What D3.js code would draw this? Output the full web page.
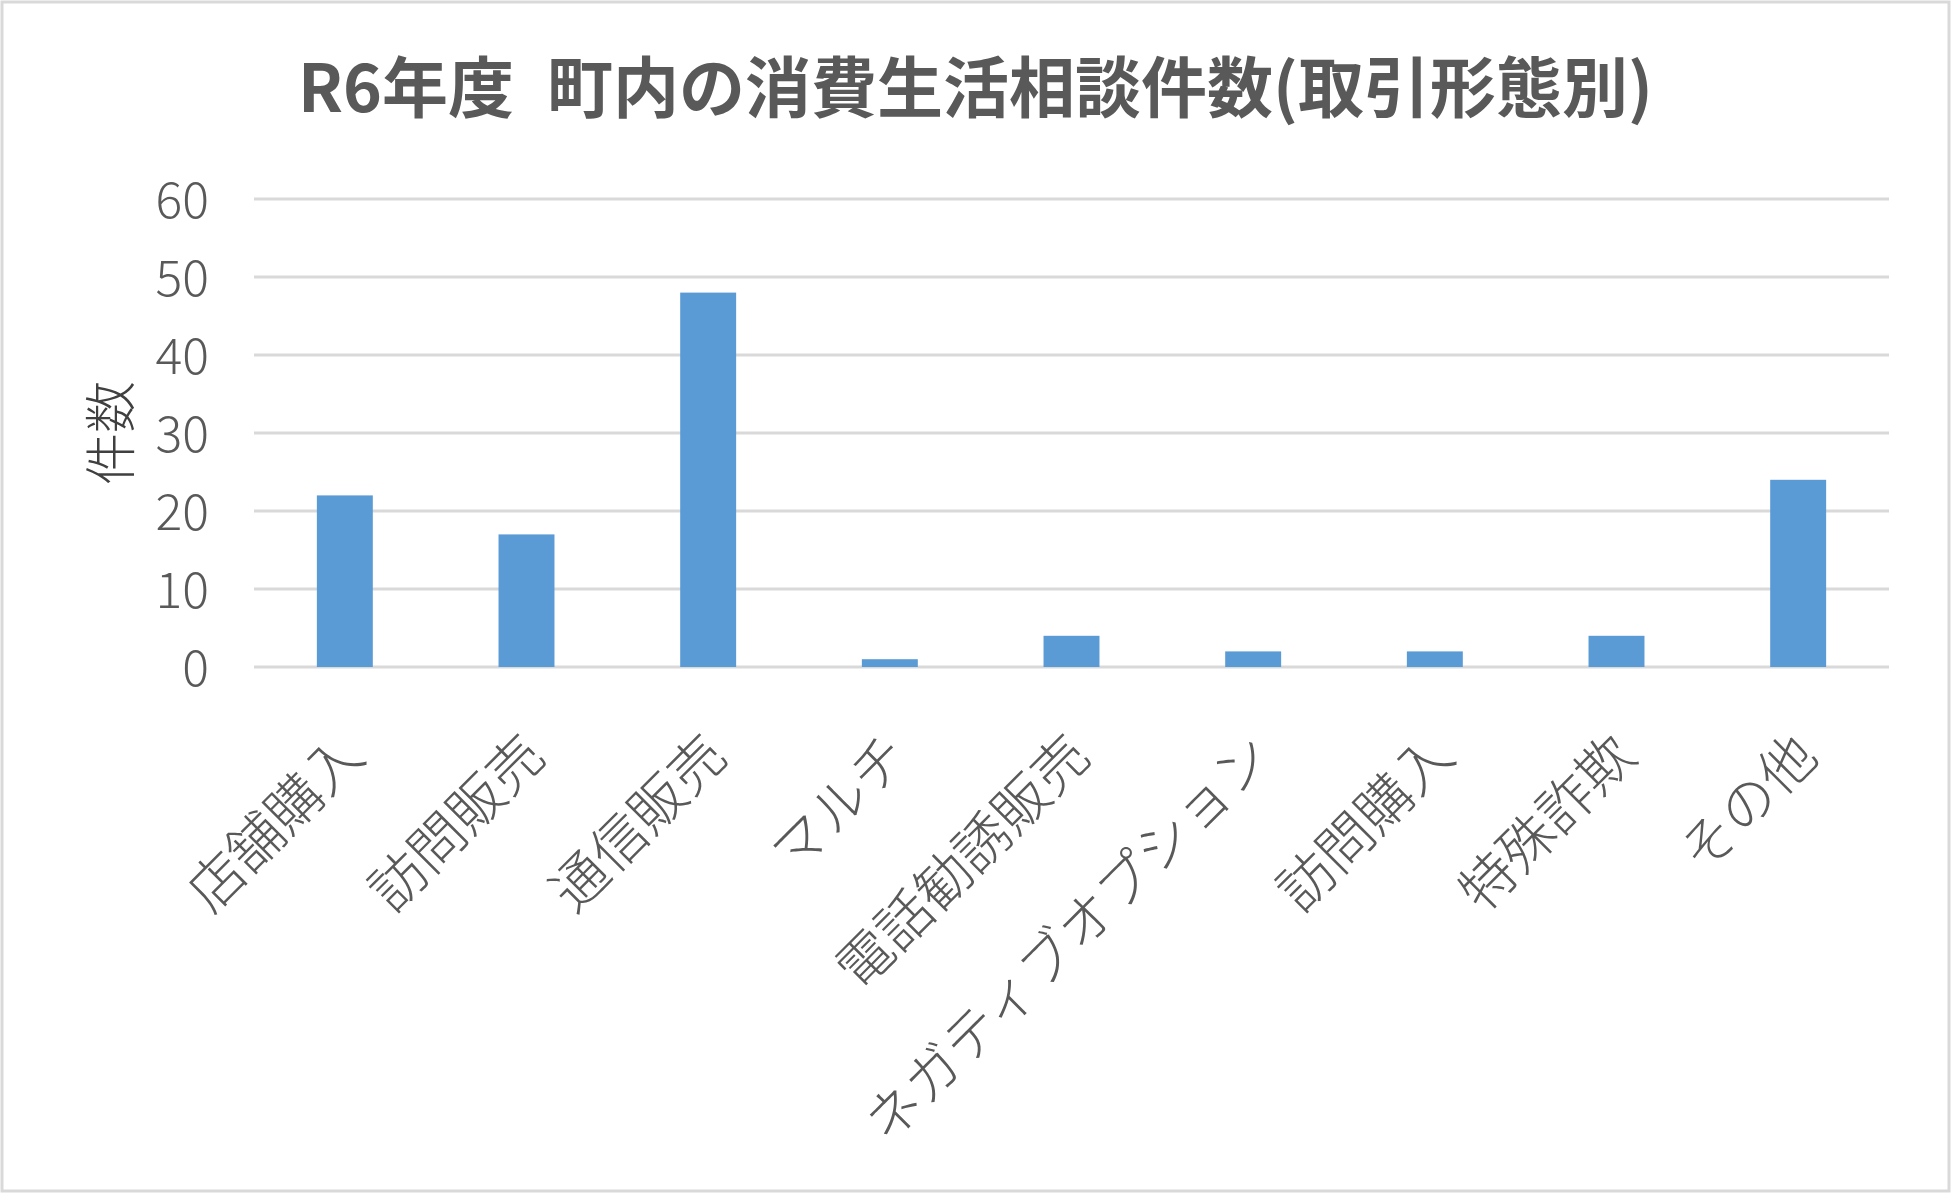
<!DOCTYPE html>
<html>
<head>
<meta charset="utf-8">
<title>R6年度 町内の消費生活相談件数</title>
<script src="https://cdn.jsdelivr.net/npm/d3@7"></script>
<style>
	body{margin:0;background:#fff;}
	svg{display:block;}
	text{font-family:"Noto Sans CJK JP","Noto Sans",sans-serif;}
</style>
</head>
<body>
<svg width="1951" height="1193"></svg>
<script>
var app = app || {};

// chart data
var categories = ["店舗購入","訪問販売","通信販売","マルチ","電話勧誘販売","ネガティブオプション","訪問購入","特殊詐欺","その他"];
var counts = [22,17,48,1,4,2,2,4,24];
var yTicks = [0,10,20,30,40,50,60];
var titleText = "R6年度\u2002町内の消費生活相談件数(取引形態別)";
var yTitle = "件数";

app.main = (function(){

	function drawChart(){

		var svg = d3.select("svg"),
		width = +svg.attr("width"),
		height = +svg.attr("height");

		//outer frame
		svg.append("rect")
		.attr("x",2).attr("y",2)
		.attr("width",width-4).attr("height",height-4)
		.attr("fill","#fff")
		.attr("stroke","#d9d9d9")
		.attr("stroke-width",3);

		var left = 254, right = 1889, top = 199, bottom = 667;

		var x = d3.scaleBand()
		.domain(categories)
		.range([left,right])
		.paddingInner(0.692)
		.paddingOuter(0.346);

		var y = d3.scaleLinear()
		.domain([0,60])
		.range([bottom,top]);

		// gridlines
		svg.append("g")
		.selectAll("line")
		.data(yTicks)
		.enter().append("line")
		.attr("x1",left).attr("x2",right)
		.attr("y1",function(d){return y(d);})
		.attr("y2",function(d){return y(d);})
		.attr("stroke","#d9d9d9")
		.attr("stroke-width",3);

		// y axis labels
		var yAxis = d3.axisLeft(y).tickValues(yTicks).tickSize(0).tickPadding(45);
		var gy = svg.append("g")
		.attr("transform","translate("+left+",0)")
		.call(yAxis);
		gy.select(".domain").remove();
		gy.selectAll("text")
		.attr("font-family","'Noto Sans CJK JP','Noto Sans',sans-serif")
		.attr("font-size",50)
		.attr("font-weight",300)
		.attr("fill","#595959")
		.attr("dy","0.36em");

		// bars
		svg.append("g")
		.selectAll("rect")
		.data(counts)
		.enter().append("rect")
		.attr("x",function(d,i){return x(categories[i]);})
		.attr("y",function(d){return y(d);})
		.attr("width",x.bandwidth())
		.attr("height",function(d){return y(0)-y(d);})
		.attr("fill","#5b9bd5");

		// x labels, rotated
		svg.append("g")
		.selectAll("text")
		.data(categories)
		.enter().append("text")
		.attr("transform",function(d){
			return "translate("+(x(d)+x.bandwidth()/2+5)+","+(bottom+75)+") rotate(-45)";
		})
		.attr("text-anchor","end")
		.attr("dominant-baseline","central")
		.attr("font-size",55)
		.attr("font-weight",300)
		.attr("fill","#595959")
		.text(function(d){return d;});

		// axis title
		svg.append("text")
		.attr("transform","translate(107,"+((top+bottom)/2)+") rotate(-90)")
		.attr("text-anchor","middle")
		.attr("dominant-baseline","central")
		.attr("font-size",52)
		.attr("font-weight",300)
		.attr("fill","#404040")
		.text(yTitle);

		// title
		svg.append("text")
		.attr("x",width/2)
		.attr("y",112)
		.attr("text-anchor","middle")
		.attr("font-size",66)
		.attr("font-weight",700)
		.attr("fill","#595959")
		.text(titleText);
	}

	var init = function(){
		drawChart();
	};

	return {
		init: init
	};
})();

window.addEventListener('DOMContentLoaded', app.main.init);
</script>
</body>
</html>
